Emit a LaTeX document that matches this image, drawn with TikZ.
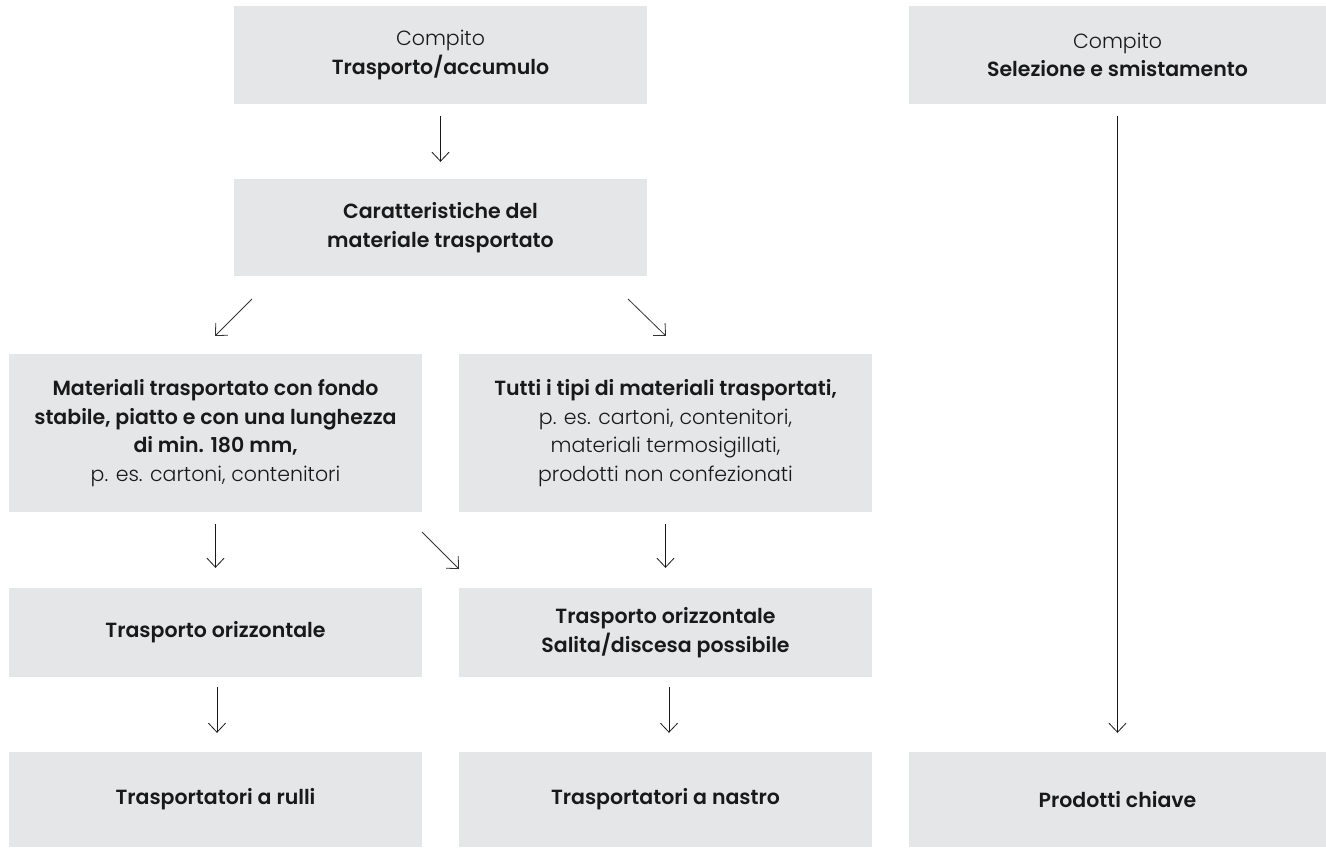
\documentclass[tikz,border=0pt]{standalone}
\usepackage{fontspec}
\setmainfont{Poppins}[UprightFont=* Light, BoldFont=* SemiBold]
\usetikzlibrary{arrows.meta}
\definecolor{boxgrey}{RGB}{229,230,232}
\begin{document}
\begin{tikzpicture}[x=1pt,y=-1pt,
  box/.style={fill=boxgrey, draw=none, inner sep=0pt, align=center,
    minimum width=413pt, font=\fontsize{20.5}{28.5}\selectfont, text=black!90},
  arr/.style={draw=black!90, line width=1pt, -{Straight Barb[length=9pt,width=17pt,line width=0.8pt]}},
  darr/.style={draw=black!80, line width=0.8pt, -{Straight Barb[length=9pt,width=17pt,line width=0.8pt]}}]
\useasboundingbox (0,0) rectangle (1326,847);
% nodes
\node[box, minimum height=98pt] (t1) at (440.5,55) {Compito\\\textbf{Trasporto/accumulo}};
\node[box, minimum height=98pt, minimum width=417pt] (tR) at (1117.5,55) {Compito\\\textbf{Selezione e smistamento}};
\node[box, minimum height=97pt] (c2) at (440.5,227.5) {\textbf{Caratteristiche del}\\\textbf{materiale trasportato}};
\node[box, minimum height=158pt] (m1) at (215.5,433) {\textbf{Materiali trasportato con fondo}\\\textbf{stabile, piatto e con una lunghezza}\\\textbf{di min. 180 mm,}\\p. es. cartoni, contenitori};
\node[box, minimum height=158pt] (m2) at (665.5,433) {\textbf{Tutti i tipi di materiali trasportati,}\\p. es. cartoni, contenitori,\\materiali termosigillati,\\prodotti non confezionati};
\node[box, minimum height=89pt] (r1) at (215.5,632.5) {\textbf{Trasporto orizzontale}};
\node[box, minimum height=89pt] (r2) at (665.5,632.5) {\textbf{Trasporto orizzontale}\\\textbf{Salita/discesa possibile}};
\node[box, minimum height=95pt] (b1) at (215.5,799.5) {\textbf{Trasportatori a rulli}};
\node[box, minimum height=95pt] (b2) at (665.5,799.5) {\textbf{Trasportatori a nastro}};
\node[box, minimum height=95pt, minimum width=417pt] (b3) at (1117.5,799.5) {\textbf{Prodotti chiave}};
% free ends of diagonal arrows
\coordinate (d1s) at (252,299);
\coordinate (d1e) at (215,336);
\coordinate (d2s) at (628,299);
\coordinate (d2e) at (666,336);
\coordinate (d3s) at (422,532);
\coordinate (d3e) at (459,569);
% connectors
\draw[arr, shorten <=12pt, shorten >=17pt] (t1.south) -- (c2.north);
\draw[darr] (d1s) -- (d1e);
\draw[darr] (d2s) -- (d2e);
\draw[arr, shorten <=12pt, shorten >=20pt] (m1.south) -- (r1.north);
\draw[darr] (d3s) -- (d3e);
\draw[arr, shorten <=12pt, shorten >=20pt] (m2.south) -- (r2.north);
\draw[arr, shorten <=10pt, shorten >=19pt] ([xshift=1.5pt]r1.south) -- ([xshift=1.5pt]b1.north);
\draw[arr, shorten <=10pt, shorten >=19pt] ([xshift=3.5pt]r2.south) -- ([xshift=3.5pt]b2.north);
\draw[arr, shorten <=12pt, shorten >=19pt] (tR.south) -- (b3.north);
\end{tikzpicture}
\end{document}
